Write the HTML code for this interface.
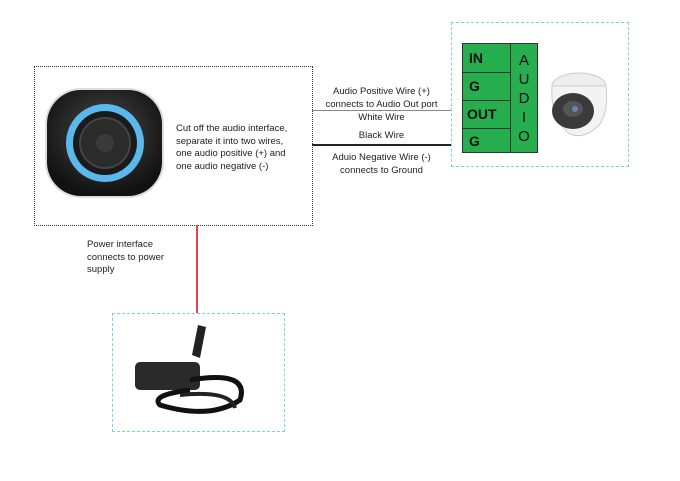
<!DOCTYPE html>
<html><head><style>
body{margin:0;width:680px;height:481px;background:#fff;position:relative;overflow:hidden;font-family:"Liberation Sans",sans-serif;}
.a{position:absolute}
.t{position:absolute;font-size:9.5px;color:#222;line-height:12.5px}
</style></head><body>
<div class="a" style="left:34px;top:66px;width:277px;height:158px;border:1px dotted #333"></div>
<svg class="a" style="left:40px;top:84px" width="130" height="118">
<defs><radialGradient id="g" cx="50%" cy="40%" r="60%"><stop offset="0" stop-color="#4a4a4a"/><stop offset="1" stop-color="#111"/></radialGradient></defs>
<rect x="5" y="4" width="119" height="110" rx="36" fill="#ddd"/>
<rect x="7" y="6" width="115" height="106" rx="34" fill="url(#g)"/>
<circle cx="65" cy="59" r="39" fill="#5ab8ea"/>
<circle cx="65" cy="59" r="32" fill="#1a1a1a"/>
<circle cx="65" cy="59" r="25" fill="#2b2b2b" stroke="#444" stroke-width="2"/>
<circle cx="65" cy="59" r="9" fill="#3a3a3a"/>
</svg>
<div class="t" style="left:176px;top:123px">Cut off the audio interface,<br>separate it into two wires,<br>one audio positive (+) and<br>one audio negative (-)</div>
<div class="a" style="left:312px;top:110px;width:139px;height:1px;background:#888"></div>
<div class="a" style="left:312px;top:144px;width:139px;height:1.5px;background:#222"></div>
<div class="t" style="left:312px;width:139px;text-align:center;top:86px">Audio Positive Wire (+)<br>connects to Audio Out port</div>
<div class="t" style="left:312px;width:139px;text-align:center;top:112px">White Wire</div>
<div class="t" style="left:312px;width:139px;text-align:center;top:130px">Black Wire</div>
<div class="t" style="left:312px;width:139px;text-align:center;top:152px">Aduio Negative Wire (-)<br>connects to Ground</div>
<div class="a" style="left:451px;top:22px;width:176px;height:143px;border:1px dashed #7fd0e4"></div>
<div class="a" style="left:462px;top:43px;width:74px;height:108px;background:#27ae4e;border:1px solid #333"></div>
<div class="a" style="left:510px;top:43px;width:1px;height:110px;background:#333"></div>
<div class="a" style="left:462px;top:72px;width:48px;height:1px;background:#333"></div>
<div class="a" style="left:462px;top:100px;width:48px;height:1px;background:#333"></div>
<div class="a" style="left:462px;top:128px;width:48px;height:1px;background:#333"></div>
<div class="a" style="left:469px;top:50px;font:bold 14px 'Liberation Sans';color:#111">IN</div>
<div class="a" style="left:469px;top:78px;font:bold 14px 'Liberation Sans';color:#111">G</div>
<div class="a" style="left:467px;top:106px;font:bold 14px 'Liberation Sans';color:#111">OUT</div>
<div class="a" style="left:469px;top:133px;font:bold 14px 'Liberation Sans';color:#111">G</div>
<div class="a" style="left:513px;top:51px;width:22px;text-align:center;font:15px/19px 'Liberation Sans';color:#111">A<br>U<br>D<br>I<br>O</div>
<svg class="a" style="left:545px;top:64px" width="68" height="80">
<ellipse cx="34" cy="22" rx="27" ry="13" fill="#eee" stroke="#ccc"/>
<path d="M7 22 Q5 55 25 70 Q40 76 55 60 Q64 45 61 22 Z" fill="#f3f3f3" stroke="#ccc"/>
<ellipse cx="28" cy="47" rx="21" ry="18" fill="#3a3a3a"/>
<ellipse cx="28" cy="45" rx="10" ry="8" fill="#555"/>
<circle cx="30" cy="45" r="3" fill="#68a"/>
</svg>
<div class="a" style="left:196px;top:225px;width:2px;height:88px;background:#e8404f"></div>
<div class="t" style="left:87px;top:239px">Power interface<br>connects to power<br>supply</div>
<div class="a" style="left:112px;top:313px;width:171px;height:117px;border:1px dashed #7fd0e4"></div>
<svg class="a" style="left:130px;top:320px" width="140" height="100">
<path d="M62 35 L68 5 L76 7 L70 38 Z" fill="#222"/>
<rect x="5" y="42" width="65" height="28" rx="5" fill="#2a2a2a"/>
<path d="M60 60 Q120 50 110 80 Q80 100 30 85 Q20 75 60 70" fill="none" stroke="#111" stroke-width="5"/>
<path d="M50 75 Q100 70 105 88" fill="none" stroke="#222" stroke-width="4"/>
</svg>
</body></html>
